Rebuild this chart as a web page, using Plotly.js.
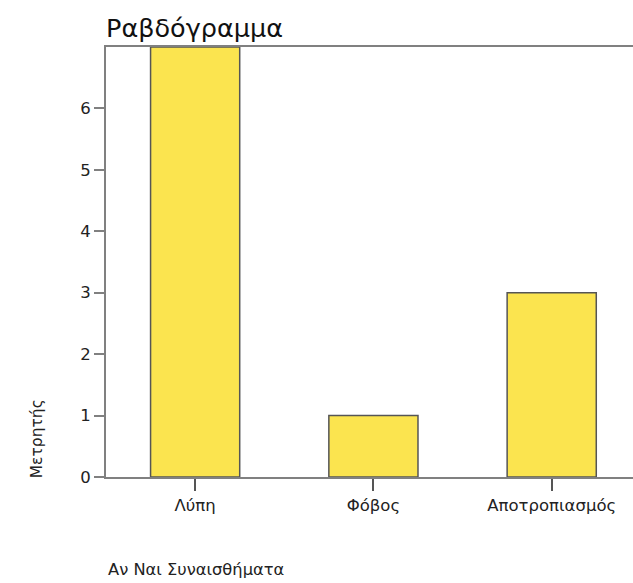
<!DOCTYPE html>
<html>
<head>
<meta charset="utf-8">
<script src="https://cdn.plot.ly/plotly-3.0.1.min.js"></script>
<style>html,body{margin:0;padding:0;background:#fff;}#chart{width:633px;height:583px;}</style>
</head>
<body>
<div id="chart"></div>
<script>
const categories = ["Λύπη", "Φόβος", "Αποτροπιασμός"];
const counts = [7, 1, 3];
const yTicks = [0, 1, 2, 3, 4, 5, 6];

const FONT = "DejaVu Sans, Verdana, sans-serif";

const trace = {
  type: "bar",
  x: categories,
  y: counts,
  width: 0.5,
  marker: { color: "#fbe44f", line: { color: "#555555", width: 1.5 } },
  hoverinfo: "none"
};

const layout = {
  width: 633,
  height: 583,
  margin: { l: 106, r: 0, t: 47, b: 106 },
  paper_bgcolor: "#ffffff",
  plot_bgcolor: "#ffffff",
  showlegend: false,
  font: { family: FONT, color: "#222222", size: 15 },
  title: {
    text: "Ραβδόγραμμα",
    font: { family: FONT, size: 25.5, color: "#111111" },
    x: 0.0, xref: "paper", xanchor: "left",
    y: 0.952, yref: "container", yanchor: "middle"
  },
  xaxis: {
    type: "category",
    range: [-0.5, 2.456],
    showline: true, linecolor: "#808080", linewidth: 2,
    mirror: true,
    showgrid: false, zeroline: false,
    ticks: "outside", ticklen: 12, tickwidth: 2, tickcolor: "#555555",
    tickfont: { family: FONT, size: 16.5, color: "#222222" }
  },
  yaxis: {
    range: [0, 7],
    tickvals: yTicks,
    showline: true, linecolor: "#808080", linewidth: 2,
    showgrid: false, zeroline: false,
    ticks: "outside", ticklen: 10, tickwidth: 2, tickcolor: "#808080",
    tickfont: { family: FONT, size: 16.5, color: "#222222" }
  },
  annotations: [
    {
      text: "Μετρητής", xref: "paper", yref: "paper",
      x: -0.131, y: 0.09, xanchor: "center", yanchor: "middle",
      textangle: -90, showarrow: false,
      font: { family: FONT, size: 15.5, color: "#222222" }
    },
    {
      text: "Αν Ναι Συναισθήματα", xref: "paper", yref: "paper",
      x: 0.0, y: -0.215, xanchor: "left", yanchor: "middle",
      showarrow: false,
      font: { family: FONT, size: 16.3, color: "#222222" }
    }
  ]
};

Plotly.newPlot("chart", [trace], layout, { displayModeBar: false, staticPlot: true });
</script>
</body>
</html>
